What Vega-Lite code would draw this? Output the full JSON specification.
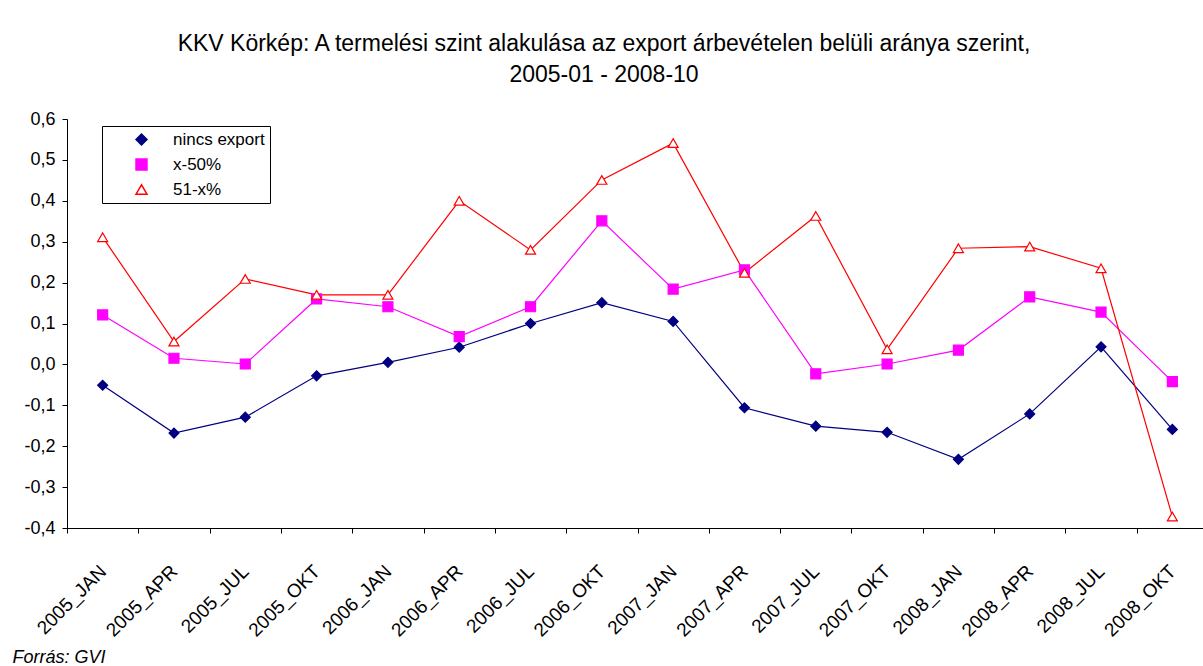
{
  "$schema": "https://vega.github.io/schema/vega-lite/v6.json",
  "width": 1136,
  "height": 409,
  "autosize": "none",
  "padding": {"left": 67, "top": 119, "right": 0, "bottom": 138},
  "background": "white",
  "config": {
    "font": "Liberation Sans",
    "view": {"stroke": null},
    "axis": {"grid": false, "domainColor": "black", "tickColor": "black", "labelColor": "black", "labelFont": "Liberation Sans"}
  },
  "title": {
    "text": ["KKV Körkép: A termelési szint alakulása az export árbevételen belüli aránya szerint,", "2005-01 - 2008-10"],
    "font": "Liberation Sans",
    "fontSize": 23,
    "fontWeight": "normal",
    "color": "black",
    "anchor": "middle",
    "dx": -31,
    "offset": 23,
    "lineHeight": 31
  },
  "data": {
    "values": [
      {"period": "2005_JAN", "series": "nincs export", "value": -0.051},
      {"period": "2005_APR", "series": "nincs export", "value": -0.168},
      {"period": "2005_JUL", "series": "nincs export", "value": -0.129},
      {"period": "2005_OKT", "series": "nincs export", "value": -0.028},
      {"period": "2006_JAN", "series": "nincs export", "value": 0.005},
      {"period": "2006_APR", "series": "nincs export", "value": 0.042},
      {"period": "2006_JUL", "series": "nincs export", "value": 0.1},
      {"period": "2006_OKT", "series": "nincs export", "value": 0.151},
      {"period": "2007_JAN", "series": "nincs export", "value": 0.105},
      {"period": "2007_APR", "series": "nincs export", "value": -0.106},
      {"period": "2007_JUL", "series": "nincs export", "value": -0.151},
      {"period": "2007_OKT", "series": "nincs export", "value": -0.166},
      {"period": "2008_JAN", "series": "nincs export", "value": -0.232},
      {"period": "2008_APR", "series": "nincs export", "value": -0.121},
      {"period": "2008_JUL", "series": "nincs export", "value": 0.043},
      {"period": "2008_OKT", "series": "nincs export", "value": -0.159},
      {"period": "2005_JAN", "series": "x-50%", "value": 0.121},
      {"period": "2005_APR", "series": "x-50%", "value": 0.015},
      {"period": "2005_JUL", "series": "x-50%", "value": 0.001},
      {"period": "2005_OKT", "series": "x-50%", "value": 0.16},
      {"period": "2006_JAN", "series": "x-50%", "value": 0.141},
      {"period": "2006_APR", "series": "x-50%", "value": 0.068},
      {"period": "2006_JUL", "series": "x-50%", "value": 0.141},
      {"period": "2006_OKT", "series": "x-50%", "value": 0.351},
      {"period": "2007_JAN", "series": "x-50%", "value": 0.184},
      {"period": "2007_APR", "series": "x-50%", "value": 0.231},
      {"period": "2007_JUL", "series": "x-50%", "value": -0.023},
      {"period": "2007_OKT", "series": "x-50%", "value": 0.001},
      {"period": "2008_JAN", "series": "x-50%", "value": 0.035},
      {"period": "2008_APR", "series": "x-50%", "value": 0.165},
      {"period": "2008_JUL", "series": "x-50%", "value": 0.128},
      {"period": "2008_OKT", "series": "x-50%", "value": -0.042},
      {"period": "2005_JAN", "series": "51-x%", "value": 0.311},
      {"period": "2005_APR", "series": "51-x%", "value": 0.056},
      {"period": "2005_JUL", "series": "51-x%", "value": 0.209},
      {"period": "2005_OKT", "series": "51-x%", "value": 0.17},
      {"period": "2006_JAN", "series": "51-x%", "value": 0.17},
      {"period": "2006_APR", "series": "51-x%", "value": 0.4},
      {"period": "2006_JUL", "series": "51-x%", "value": 0.28},
      {"period": "2006_OKT", "series": "51-x%", "value": 0.451},
      {"period": "2007_JAN", "series": "51-x%", "value": 0.541},
      {"period": "2007_APR", "series": "51-x%", "value": 0.224},
      {"period": "2007_JUL", "series": "51-x%", "value": 0.363},
      {"period": "2007_OKT", "series": "51-x%", "value": 0.037},
      {"period": "2008_JAN", "series": "51-x%", "value": 0.284},
      {"period": "2008_APR", "series": "51-x%", "value": 0.288},
      {"period": "2008_JUL", "series": "51-x%", "value": 0.235},
      {"period": "2008_OKT", "series": "51-x%", "value": -0.372}
    ]
  },
  "encoding": {
    "x": {
      "field": "period",
      "type": "nominal",
      "sort": null,
      "scale": {"type": "band", "range": [0, 1141], "paddingInner": 0, "paddingOuter": 0},
      "axis": {
        "title": "Forrás: GVI",
        "titleFont": "Liberation Sans",
        "titleFontSize": 18,
        "titleFontStyle": "italic",
        "titleFontWeight": "normal",
        "titleColor": "black",
        "titleX": -55,
        "titleY": 134,
        "titleAlign": "left",
        "titleAngle": 0,
        "titleBaseline": "alphabetic",
        "tickBand": "extent",
        "tickSize": 5,
        "labelAngle": -45,
        "labelAlign": "right",
        "labelBaseline": "middle",
        "labelFontSize": 19,
        "labelPadding": 35,
        "labelOverlap": false,
        "labelBound": false,
        "labelFlush": false
      }
    },
    "y": {
      "field": "value",
      "type": "quantitative",
      "scale": {"domain": [-0.4, 0.6], "nice": false, "zero": false},
      "axis": {
        "title": null,
        "values": [-0.4, -0.3, -0.2, -0.1, 0, 0.1, 0.2, 0.3, 0.4, 0.5, 0.6],
        "labelExpr": "replace(replace(format(datum.value, '.1f'), '.', ','), '\u2212', '-')",
        "tickSize": 5,
        "labelPadding": 7,
        "labelFontSize": 18
      }
    }
  },
  "layer": [
    {
      "mark": {"type": "line", "strokeWidth": 1.2},
      "encoding": {
        "stroke": {
          "field": "series",
          "type": "nominal",
          "sort": null,
          "scale": {"domain": ["nincs export", "x-50%", "51-x%"], "range": ["#000080", "#FF00FF", "#FF0000"]},
          "legend": {
            "title": null, "orient": "none", "legendX": 35, "legendY": 7,
            "strokeColor": "black", "fillColor": "white", "padding": 5, "rowPadding": 7,
            "symbolOffset": 26, "labelOffset": 23, "labelFont": "Liberation Sans", "labelFontSize": 17, "labelColor": "black", "symbolSize": 120
          }
        }
      }
    },
    {
      "mark": {"type": "point", "size": 100, "opacity": 1, "strokeWidth": 1.2},
      "encoding": {
        "shape": {
          "field": "series",
          "type": "nominal",
          "sort": null,
          "scale": {"domain": ["nincs export", "x-50%", "51-x%"], "range": ["diamond", "square", "triangle-up"]},
          "legend": {
            "title": null, "orient": "none", "legendX": 35, "legendY": 7,
            "strokeColor": "black", "fillColor": "white", "padding": 5, "rowPadding": 7,
            "symbolOffset": 26, "labelOffset": 23, "labelFont": "Liberation Sans", "labelFontSize": 17, "labelColor": "black", "symbolSize": 120
          }
        },
        "stroke": {
          "field": "series",
          "type": "nominal",
          "sort": null,
          "scale": {"domain": ["nincs export", "x-50%", "51-x%"], "range": ["#000080", "#FF00FF", "#FF0000"]},
          "legend": {
            "title": null, "orient": "none", "legendX": 35, "legendY": 7,
            "strokeColor": "black", "fillColor": "white", "padding": 5, "rowPadding": 7,
            "symbolOffset": 26, "labelOffset": 23, "labelFont": "Liberation Sans", "labelFontSize": 17, "labelColor": "black", "symbolSize": 120
          }
        },
        "fill": {
          "field": "series",
          "type": "nominal",
          "sort": null,
          "scale": {"domain": ["nincs export", "x-50%", "51-x%"], "range": ["#000080", "#FF00FF", "#FFFFFF"]},
          "legend": {
            "title": null, "orient": "none", "legendX": 35, "legendY": 7,
            "strokeColor": "black", "fillColor": "white", "padding": 5, "rowPadding": 7,
            "symbolOffset": 26, "labelOffset": 23, "labelFont": "Liberation Sans", "labelFontSize": 17, "labelColor": "black", "symbolSize": 120
          }
        }
      }
    }
  ]
}
